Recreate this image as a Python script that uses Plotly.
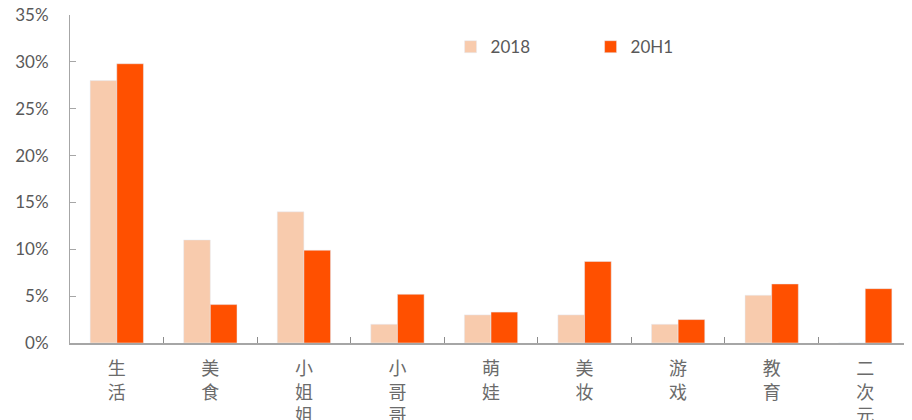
import plotly.graph_objects as go

categories = ["生活", "美食", "小姐姐", "小哥哥", "萌娃", "美妆", "游戏", "教育", "二次元"]
share_2018 = [28.0, 11.0, 14.0, 2.0, 3.0, 3.0, 2.0, 5.1, 0.0]
share_20h1 = [29.8, 4.1, 9.9, 5.2, 3.3, 8.7, 2.5, 6.3, 5.8]
y_ticks = [0, 5, 10, 15, 20, 25, 30, 35]
y_tick_labels = [f"{v}%" for v in y_ticks]

# vertical category labels: one character per line
vertical_labels = ["<br>".join(list(c)) for c in categories]

fig = go.Figure()
fig.add_trace(go.Bar(x=categories, y=share_2018, name="2018", marker_color="#F8CBAD"))
fig.add_trace(go.Bar(x=categories, y=share_20h1, name="20H1", marker_color="#FF5000"))

# page body has an 8px margin, so the figure is sized to fill the rest of the window
fig.update_layout(
    width=904,
    height=412,
    margin=dict(l=62, r=0, t=7, b=77, autoexpand=False),
    plot_bgcolor="white",
    paper_bgcolor="white",
    barmode="group",
    bargap=0.43,
    bargroupgap=0,
    font=dict(family="Lato, Noto Sans", color="#595959"),
    legend=dict(
        orientation="h",
        x=0.452,
        xanchor="left",
        y=0.902,
        yanchor="middle",
        font=dict(size=17, color="#595959"),
        entrywidth=95,
        bgcolor="rgba(0,0,0,0)",
    ),
)

fig.update_yaxes(
    range=[0, 35],
    tickmode="array",
    tickvals=y_ticks,
    ticktext=y_tick_labels,
    automargin=False,
    ticklabeloverflow="allow",
    showgrid=False,
    zeroline=False,
    showline=True,
    linecolor="#A6A6A6",
    linewidth=1,
    ticks="inside",
    ticklen=6,
    tickcolor="#A6A6A6",
    tickfont=dict(family="Lato", size=17, color="#595959"),
    ticklabelstandoff=17,
)

fig.update_xaxes(
    tickvals=categories,
    ticktext=vertical_labels,
    automargin=False,
    ticklabeloverflow="allow",
    showgrid=False,
    showline=True,
    linecolor="#A6A6A6",
    linewidth=1.5,
    ticks="inside",
    tickson="boundaries",
    ticklen=6,
    tickcolor="#8C8C8C",
    tickfont=dict(family="Noto Sans CJK SC", size=18, color="#6B6B6B"),
    ticklabelstandoff=9,
)

fig.write_html("out.html")
